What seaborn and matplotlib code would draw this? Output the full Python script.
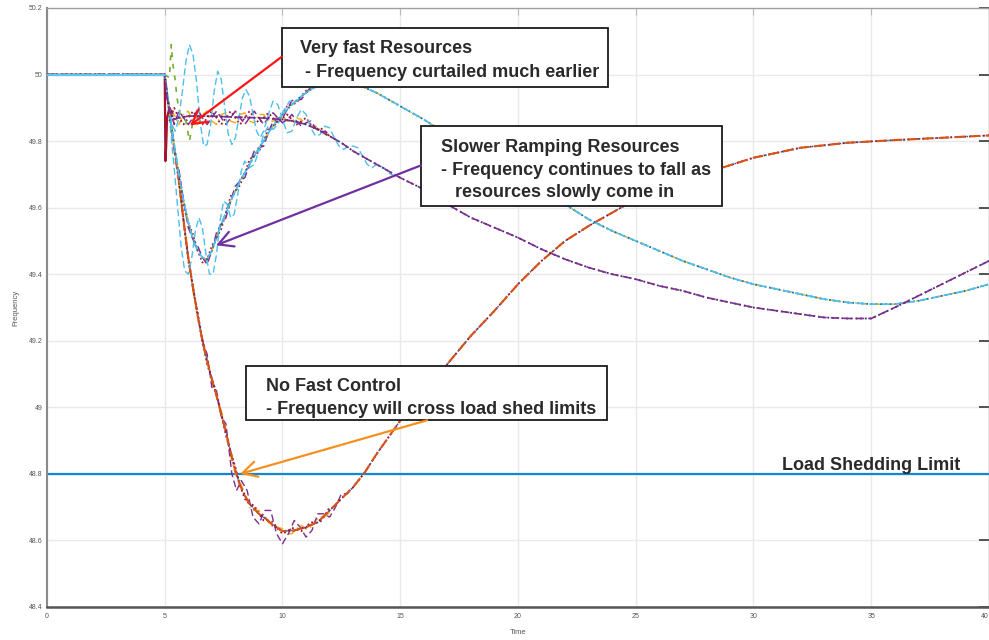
import matplotlib
matplotlib.use("Agg")
import matplotlib.pyplot as plt
import seaborn as sns
from matplotlib.patches import Rectangle

# ---------------------------------------------------------------------------
# Frequency response after a generation trip at t = 5 s (Hz vs. seconds)
# ---------------------------------------------------------------------------
NOMINAL_HZ = 50.0
EVENT_T = 5.0
LOAD_SHED_HZ = 48.8

X_TICKS = [0, 5, 10, 15, 20, 25, 30, 35, 40]
Y_TICKS = [48.4, 48.6, 48.8, 49.0, 49.2, 49.4, 49.6, 49.8, 50.0, 50.2]

t_pre = [0.0, EVENT_T]
f_pre = [NOMINAL_HZ, NOMINAL_HZ]

# --- No fast control ---------------------------------------------------------
t_slow = [0.0, 5.0, 5.2, 5.4, 5.6, 5.8, 6.0, 6.2, 6.4, 6.6, 6.8, 7.0, 7.2, 7.4,
          7.6, 7.8, 8.0, 8.2, 8.4, 8.6, 8.8, 9.0, 9.3, 9.6, 10.0, 10.5, 11.0,
          11.5, 12.0, 12.5, 13.0, 13.5, 14.0, 15.0, 16.0, 17.0, 18.0, 19.0,
          20.0, 21.0, 22.0, 23.0, 24.0, 25.0, 26.0, 28.0, 30.0, 32.0, 34.0,
          36.0, 38.0, 40.0]
f_slow = [50.0, 50.0, 49.89, 49.78, 49.68, 49.56, 49.45, 49.36, 49.275, 49.20,
          49.14, 49.085, 49.035, 48.98, 48.925, 48.865, 48.81, 48.765, 48.735,
          48.71, 48.695, 48.68, 48.665, 48.645, 48.628, 48.63, 48.64, 48.655,
          48.69, 48.725, 48.76, 48.805, 48.86, 48.96, 49.05, 49.13, 49.215,
          49.29, 49.37, 49.44, 49.50, 49.545, 49.585, 49.625, 49.66, 49.705,
          49.75, 49.78, 49.795, 49.803, 49.81, 49.817]

t_slow_win = [5.6, 5.8, 6.0, 6.2, 6.4, 6.6, 6.8, 7.0, 7.2, 7.4, 7.6, 7.8, 8.0,
              8.2, 8.4, 8.6, 8.8, 9.0, 9.2, 9.4, 9.6, 9.8, 10.0, 10.2, 10.4,
              10.6, 10.8, 11.0, 11.2, 11.4, 11.6, 11.8, 12.0]
f_slow_red = [49.69, 49.56, 49.44, 49.36, 49.285, 49.20, 49.13, 49.085, 49.045,
              48.98, 48.915, 48.865, 48.82, 48.765, 48.725, 48.71, 48.705,
              48.68, 48.66, 48.66, 48.655, 48.635, 48.62, 48.627, 48.638,
              48.632, 48.628, 48.64, 48.655, 48.652, 48.655, 48.675, 48.70]
f_slow_yellow = [49.67, 49.565, 49.455, 49.35, 49.27, 49.21, 49.145, 49.075,
                 49.03, 48.99, 48.93, 48.855, 48.80, 48.775, 48.74, 48.70,
                 48.69, 48.69, 48.675, 48.655, 48.64, 48.64, 48.635, 48.62,
                 48.62, 48.635, 48.645, 48.635, 48.64, 48.66, 48.67, 48.67,
                 48.685]
t_slow_osc = [6.6, 6.8, 7.0, 7.2, 7.4, 7.6, 7.85, 8.05, 8.25, 8.5, 8.75, 9.0,
              9.25, 9.5, 9.75, 10.0, 10.25, 10.5, 10.75, 11.0, 11.25, 11.5,
              11.75, 12.0, 12.25, 12.5, 12.75, 13.0]
f_slow_osc = [49.20, 49.16, 49.06, 49.05, 48.97, 48.95, 48.80, 48.75, 48.78,
              48.75, 48.67, 48.65, 48.69, 48.69, 48.62, 48.59, 48.62, 48.66,
              48.64, 48.61, 48.63, 48.68, 48.68, 48.67, 48.70, 48.74, 48.74,
              48.76]

# --- Slower ramping resources ---------------------------------------------------
t_ramp = [0.0, 5.0, 5.2, 5.4, 5.6, 5.8, 6.0, 6.2, 6.4, 6.6, 6.8, 7.0, 7.2, 7.4,
          7.6, 7.8, 8.0, 8.2, 8.4, 8.6, 8.8, 9.0, 9.2, 9.4, 9.6, 9.8, 10.0,
          10.4, 10.8, 11.2, 11.6, 12.0, 12.4, 12.8, 13.3, 14.0, 15.0, 16.0,
          17.0, 18.0, 19.0, 20.0, 21.0, 22.0, 23.0, 24.0, 25.0, 26.0, 27.0,
          28.0, 29.0, 30.0, 31.0, 32.0, 33.0, 34.0, 35.0, 36.0, 37.0, 38.0,
          39.0, 40.0]
f_ramp = [50.0, 50.0, 49.89, 49.79, 49.70, 49.62, 49.555, 49.505, 49.47, 49.45,
          49.445, 49.47, 49.51, 49.55, 49.585, 49.62, 49.65, 49.68, 49.705,
          49.73, 49.755, 49.78, 49.80, 49.825, 49.845, 49.865, 49.88, 49.91,
          49.935, 49.955, 49.97, 49.98, 49.985, 49.98, 49.967, 49.945, 49.905,
          49.865, 49.82, 49.775, 49.735, 49.695, 49.655, 49.61, 49.565, 49.53,
          49.50, 49.47, 49.44, 49.415, 49.39, 49.37, 49.355, 49.34, 49.325,
          49.315, 49.31, 49.31, 49.32, 49.335, 49.35, 49.37]

t_ramp_win = [5.6, 5.8, 6.0, 6.2, 6.4, 6.6, 6.8, 7.0, 7.2, 7.4, 7.6, 7.8, 8.0,
              8.2, 8.4, 8.6, 8.8, 9.0, 9.2, 9.4, 9.6, 9.8, 10.0, 10.2, 10.4,
              10.6, 10.8, 11.0, 11.2]
f_ramp_purple = [49.715, 49.62, 49.54, 49.505, 49.485, 49.45, 49.43, 49.47,
                 49.525, 49.55, 49.57, 49.62, 49.665, 49.68, 49.69, 49.73,
                 49.77, 49.78, 49.785, 49.825, 49.86, 49.865, 49.868, 49.895,
                 49.922, 49.923, 49.925, 49.945, 49.962]
f_ramp_red = [49.70, 49.605, 49.555, 49.52, 49.47, 49.435, 49.445, 49.485,
              49.51, 49.535, 49.585, 49.635, 49.65, 49.667, 49.705, 49.745,
              49.755, 49.768, 49.80, 49.838, 49.845, 49.855, 49.88, 49.905,
              49.91, 49.915, 49.935, 49.952, 49.955]
t_ramp_osc = [5.0, 5.2, 5.4, 5.55, 5.7, 5.85, 6.0, 6.15, 6.3, 6.45, 6.6, 6.75,
              6.9, 7.05, 7.2, 7.35, 7.5, 7.65, 7.8, 7.95, 8.1, 8.25, 8.4, 8.6,
              8.8, 9.0, 9.2, 9.4, 9.6, 9.8, 10.0, 10.3, 10.6, 10.9, 11.2]
f_ramp_osc = [50.0, 49.87, 49.72, 49.60, 49.48, 49.41, 49.40, 49.45, 49.53,
              49.57, 49.54, 49.46, 49.40, 49.40, 49.46, 49.56, 49.62, 49.61,
              49.57, 49.58, 49.64, 49.71, 49.74, 49.72, 49.73, 49.77, 49.82,
              49.845, 49.835, 49.85, 49.885, 49.92, 49.92, 49.94, 49.955]

# --- Very fast resources --------------------------------------------------------
t_fast = [0.0, 5.0, 5.1, 5.2, 5.4, 5.6, 6.0, 7.0, 8.0, 9.0, 10.0, 10.5, 11.0,
          11.5, 12.0, 12.5, 13.0, 14.0, 15.0, 16.0, 17.0, 18.0, 19.0, 20.0,
          21.0, 22.0, 23.0, 24.0, 25.0, 26.0, 27.0, 28.0, 29.0, 30.0, 31.0,
          32.0, 33.0, 34.0, 35.0, 36.0, 37.0, 38.0, 39.0, 40.0]
f_fast = [50.0, 50.0, 49.93, 49.89, 49.865, 49.87, 49.875, 49.875, 49.872,
          49.87, 49.865, 49.86, 49.85, 49.835, 49.815, 49.795, 49.77, 49.73,
          49.69, 49.655, 49.61, 49.57, 49.54, 49.51, 49.475, 49.445, 49.42,
          49.40, 49.385, 49.365, 49.35, 49.33, 49.315, 49.30, 49.29, 49.28,
          49.27, 49.267, 49.267, 49.30, 49.335, 49.37, 49.405, 49.44]

t_fast_win = [5.2, 5.4, 5.6, 5.8, 6.0, 6.2, 6.4, 6.6, 6.8, 7.0, 7.2, 7.4, 7.6,
              7.8, 8.0, 8.2, 8.4, 8.6, 8.8, 9.0, 9.2, 9.4, 9.6, 9.8, 10.0,
              10.2, 10.4, 10.6, 10.8, 11.0, 11.2, 11.4, 11.6, 11.8, 12.0]
f_fast_purple = [49.90, 49.85, 49.89, 49.87, 49.85, 49.87, 49.895, 49.87,
                 49.85, 49.87, 49.89, 49.87, 49.85, 49.87, 49.89, 49.87, 49.85,
                 49.87, 49.89, 49.87, 49.85, 49.87, 49.885, 49.87, 49.855,
                 49.865, 49.88, 49.86, 49.845, 49.855, 49.86, 49.84, 49.825,
                 49.83, 49.82]
f_fast_red = [49.86, 49.90, 49.87, 49.85, 49.87, 49.89, 49.87, 49.85, 49.87,
              49.89, 49.87, 49.85, 49.87, 49.89, 49.87, 49.85, 49.87, 49.89,
              49.87, 49.855, 49.87, 49.885, 49.87, 49.855, 49.87, 49.88,
              49.865, 49.85, 49.86, 49.87, 49.85, 49.835, 49.84, 49.83, 49.815]
f_fast_yellow = [49.88, 49.88, 49.85, 49.88, 49.89, 49.86, 49.85, 49.88, 49.89,
                 49.86, 49.85, 49.88, 49.885, 49.86, 49.855, 49.88, 49.885,
                 49.86, 49.855, 49.88, 49.88, 49.86, 49.86, 49.875, 49.875,
                 49.86, 49.86, 49.87, 49.865, 49.85, 49.845, 49.845, 49.835,
                 49.82, 49.815]
t_fast_osc = [5.0, 5.15, 5.3, 5.45, 5.6, 5.75, 5.9, 6.05, 6.2, 6.35, 6.5, 6.65,
              6.8, 6.95, 7.1, 7.25, 7.4, 7.55, 7.7, 7.85, 8.0, 8.15, 8.3, 8.45,
              8.6, 8.75, 8.9, 9.05, 9.2, 9.4, 9.6, 9.8, 10.0, 10.2, 10.4, 10.6,
              10.8, 11.0, 11.2, 11.4, 11.6, 11.8, 12.0, 12.2, 12.4, 12.6, 12.8,
              13.0, 13.2, 13.4, 13.6, 13.8, 14.0, 14.3, 14.6, 15.0]
f_fast_osc = [50.0, 49.92, 49.85, 49.83, 49.87, 49.95, 50.04, 50.09, 50.06,
              49.98, 49.86, 49.785, 49.79, 49.85, 49.95, 50.01, 49.985, 49.90,
              49.82, 49.79, 49.81, 49.87, 49.93, 49.955, 49.935, 49.88, 49.83,
              49.81, 49.83, 49.88, 49.92, 49.91, 49.865, 49.825, 49.83, 49.87,
              49.895, 49.88, 49.84, 49.815, 49.82, 49.845, 49.84, 49.81,
              49.785, 49.775, 49.785, 49.785, 49.78, 49.755, 49.73, 49.72,
              49.73, 49.72, 49.70, 49.69]
t_fast_green = [5.0, 5.2, 5.28, 5.33, 5.45, 5.52, 5.65, 5.9, 6.05, 6.2, 6.5]
f_fast_green = [50.0, 49.99, 50.09, 50.04, 49.98, 49.93, 49.88, 49.86, 49.80,
                49.86, 49.88]
t_fast_dip = [5.0, 5.03, 5.06, 5.1, 5.2, 5.35]
f_fast_dip = [50.0, 49.74, 49.78, 49.87, 49.90, 49.88]

# ---------------------------------------------------------------------------
BLUE = "#0072BD"
ORANGE = "#D95319"
YELLOW = "#EDB120"
PURPLE = "#7E2F8E"
GREEN = "#77AC30"
LIGHTBLUE = "#4DBEEE"
DARKRED = "#A2142F"

DASH = (0, (5, 2.5))
DASHDOT = (0, (5, 2, 1, 2))
DOT = (0, (1, 1.6))
SPARSE = (0, (3, 4))

sns.set_theme(style="white")
plt.rcParams["font.family"] = ["Liberation Sans", "DejaVu Sans"]

fig = plt.figure(figsize=(9.89, 6.40), dpi=100)
ax = fig.add_axes([0.0475, 0.0516, 0.9525, 0.9359])


def trace(t, f, color, ls, lw=1.1, z=3):
    sns.lineplot(x=t, y=f, ax=ax, color=color, linestyle=ls, linewidth=lw,
                 zorder=z, estimator=None, sort=False, legend=False)


# load shedding threshold
ax.axhline(LOAD_SHED_HZ, color="#1288cc", lw=1.6, zorder=2.5)

# no fast control
trace(t_slow_win, f_slow_yellow, YELLOW, DASHDOT)
trace(t_slow_win, f_slow_red, DARKRED, DOT, lw=1.3)
trace(t_slow, f_slow, BLUE, DOT)
trace(t_slow_osc, f_slow_osc, PURPLE, DASH, lw=1.0)
trace(t_slow, f_slow, DARKRED, DOT, lw=1.3)
trace(t_slow, f_slow, ORANGE, DASH, lw=1.5)

# slower ramping resources
trace(t_ramp_win, f_ramp_red, DARKRED, DOT, lw=1.2)
trace(t_ramp_win, f_ramp_purple, PURPLE, DASH)
trace(t_ramp, f_ramp, YELLOW, DASHDOT)
trace(t_ramp_osc, f_ramp_osc, LIGHTBLUE, DASH, lw=1.0)
trace(t_ramp, f_ramp, BLUE, DOT, lw=1.3)
trace(t_ramp, f_ramp, LIGHTBLUE, DASH, lw=1.2)

# very fast resources
trace(t_fast_dip, f_fast_dip, DARKRED, "-", lw=1.6)
trace(t_fast_win, f_fast_yellow, YELLOW, DASHDOT)
trace(t_fast_win, f_fast_red, DARKRED, DOT, lw=1.3)
trace(t_fast_win, f_fast_purple, PURPLE, DASH)
trace(t_fast_green, f_fast_green, GREEN, SPARSE, lw=1.2)
trace(t_fast_osc, f_fast_osc, LIGHTBLUE, DASH, lw=1.0)
trace(t_fast, f_fast, "#3b2a6e", DOT, lw=1.3)
trace(t_fast, f_fast, PURPLE, DASH, lw=1.2)

# pre-disturbance steady state
trace(t_pre, f_pre, "#5ec4f0", "-", lw=1.6, z=4)

# axes styling
ax.set_xlim(0, 40)
ax.set_ylim(48.4, 50.2)
ax.set_xticks(X_TICKS)
ax.set_xticklabels([f"{v:g}" for v in X_TICKS])
ax.set_yticks(Y_TICKS)
ax.set_yticklabels([f"{v:g}" for v in Y_TICKS])
ax.grid(True, color="#e9e9e9", lw=1.0, zorder=0)
ax.set_axisbelow(True)
ax.tick_params(axis="both", direction="in", top=True, right=True,
               labelsize=5, labelcolor="#555555")
ax.tick_params(axis="y", length=7, width=1.3, color="#444444", pad=3)
ax.tick_params(axis="x", length=5, width=0.8, color="#bbbbbb", pad=4)
for tick in ax.yaxis.get_major_ticks():
    tick.tick2line.set_color("#a8a8a8")
# keep the last time label inside the canvas
ax.get_xticklabels()[-1].set_horizontalalignment("right")
ax.spines["left"].set(color="#8a8a8a", lw=1.5)
ax.spines["bottom"].set(color="#555555", lw=1.8)
ax.spines["top"].set(color="#a0a0a0", lw=1.0)
ax.spines["right"].set(color="#a0a0a0", lw=1.0)
ax.set_xlabel("Time", fontsize=5.5, color="#555555")
ax.set_ylabel("Frequency", fontsize=5.5, color="#555555")
ax.xaxis.set_label_coords(0.5, -0.036)
ax.yaxis.set_label_coords(-0.029, 0.5)

TXT = dict(fontsize=13, fontweight="bold", color="#2a2a2a", ha="left",
           va="center", zorder=12)


def callout(x0, x1, y0, y1, lines):
    ax.add_patch(Rectangle((x0, y0), x1 - x0, y1 - y0, facecolor="white",
                           edgecolor="#1a1a1a", lw=1.3, zorder=11))
    for (tx, ty, s) in lines:
        ax.text(tx, ty, s, **TXT)


def pointer(tip, start, color):
    ax.annotate("", xy=tip, xytext=start, zorder=13,
                arrowprops=dict(arrowstyle="->, head_length=0.65, head_width=0.35",
                                mutation_scale=16, color=color, lw=1.6,
                                shrinkA=0, shrinkB=0))


callout(9.98, 23.82, 49.964, 50.141,
        [(10.74, 50.078, "Very fast Resources"),
         (10.96, 50.006, "- Frequency curtailed much earlier")])
callout(15.88, 28.66, 49.604, 49.844,
        [(16.73, 49.781, "Slower Ramping Resources"),
         (16.73, 49.712, "- Frequency continues to fall as"),
         (17.32, 49.646, "resources slowly come in")])
callout(8.45, 23.78, 48.961, 49.123,
        [(9.30, 49.063, "No Fast Control"),
         (9.30, 48.994, "- Frequency will cross load shed limits")])

pointer((6.07, 49.847), (9.98, 50.054), "#ff1414")
pointer((7.18, 49.487), (15.88, 49.727), "#7030a0")
pointer((8.20, 48.80), (16.14, 48.961), "#f5901e")

ax.text(31.2, 48.826, "Load Shedding Limit", **TXT)

fig.savefig("out.png", dpi=100)
